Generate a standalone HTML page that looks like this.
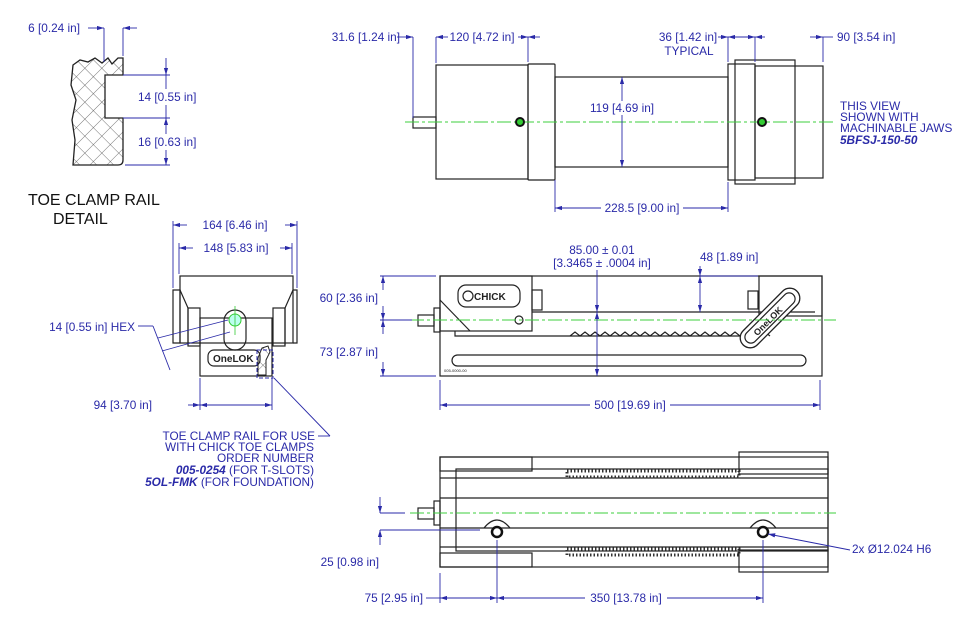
<!DOCTYPE html>
<html><head><meta charset="utf-8"><style>
html,body{margin:0;padding:0;background:#fff}
svg{display:block}
text{font-family:"Liberation Sans",Arial,sans-serif;font-size:11.8px;fill:#2a2aa8}
.m{text-anchor:middle}.e{text-anchor:end}
.b{fill:none;stroke:#222;stroke-width:1.2}
.d{stroke:#2a2aa8;stroke-width:0.9;fill:none}
.c{stroke:#3ccf3c;stroke-width:1;stroke-dasharray:14 3 3 3;fill:none}
</style></head><body>
<svg width="962" height="621" viewBox="0 0 962 621" xmlns="http://www.w3.org/2000/svg">
<defs>
<marker id="a" viewBox="0 0 10 6" refX="10" refY="3" markerWidth="8" markerHeight="5" orient="auto-start-reverse"><path d="M0,0L10,3L0,6z" fill="#2a2aa8"/></marker>
<pattern id="h" width="12" height="12" patternUnits="userSpaceOnUse" patternTransform="rotate(45)"><path d="M0,0V12M0,0H12" stroke="#444" stroke-width="0.7"/></pattern>
</defs>

<!-- TOE CLAMP DETAIL -->
<path d="M73,65 L80,60 L88,62 L95,58 L102,63 L108,58 L112,64 L118,58 L123,58 L123,75 L105,75 L105,118 L123,118 L123,160 Q123,165 118,165 L73,165 L75,140 L72,120 L76,100 L71,85 Z" fill="url(#h)" stroke="#222" stroke-width="1.3"/>
<text x="80" y="32" class="e">6 [0.24 in]</text>
<line class="d" x1="88" y1="28" x2="104" y2="28" marker-end="url(#a)"/>
<line class="d" x1="104" y1="28" x2="104" y2="62"/><line class="d" x1="123" y1="28" x2="123" y2="56"/>
<line class="d" x1="137" y1="28" x2="123" y2="28" marker-end="url(#a)"/>
<line class="d" x1="123" y1="75" x2="170" y2="75"/><line class="d" x1="123" y1="118" x2="170" y2="118"/><line class="d" x1="125" y1="165" x2="170" y2="165"/>
<line class="d" x1="166" y1="58" x2="166" y2="75" marker-end="url(#a)"/>
<line class="d" x1="166" y1="118" x2="166" y2="165" marker-start="url(#a)" marker-end="url(#a)"/>
<line class="d" x1="166" y1="75" x2="166" y2="118"/>
<rect x="136" y="89" width="64" height="16" fill="#fff"/><rect x="136" y="134" width="64" height="16" fill="#fff"/>
<text x="138" y="101">14 [0.55 in]</text>
<text x="138" y="146">16 [0.63 in]</text>
<text x="28" y="205" style="fill:#111;font-size:16px">TOE CLAMP RAIL</text>
<text x="53" y="224" style="fill:#111;font-size:16px">DETAIL</text>

<!-- TOP VIEW -->
<rect class="b" x="413" y="117" width="23" height="11"/>
<rect class="b" x="436" y="65" width="92" height="114"/>
<rect class="b" x="528" y="64" width="27" height="116" rx="1"/>
<rect class="b" x="555" y="77" width="173" height="90"/>
<rect class="b" x="735" y="60" width="60" height="124"/>
<rect class="b" x="728" y="64" width="27" height="116" fill="#fff"/>
<rect class="b" x="755" y="66" width="68" height="112" fill="#fff"/>
<line class="c" x1="405" y1="122" x2="836" y2="122"/>
<circle cx="520" cy="122" r="4" fill="#3c3" stroke="#111" stroke-width="2"/>
<circle cx="762" cy="122" r="4" fill="#3c3" stroke="#111" stroke-width="2"/>
<text x="400" y="41" class="e">31.6 [1.24 in]</text>
<line class="d" x1="397" y1="37" x2="413" y2="37" marker-end="url(#a)"/>
<line class="d" x1="413" y1="37" x2="413" y2="118"/><line class="d" x1="436" y1="37" x2="436" y2="63"/><line class="d" x1="528" y1="37" x2="528" y2="62"/>
<line class="d" x1="448" y1="37" x2="436" y2="37" marker-end="url(#a)"/>
<text x="482" y="41" class="m">120 [4.72 in]</text>
<line class="d" x1="518" y1="37" x2="528" y2="37" marker-end="url(#a)"/>
<line class="d" x1="540" y1="37" x2="528" y2="37" marker-end="url(#a)"/>
<text x="688" y="41" class="m">36 [1.42 in]</text><text x="689" y="55" class="m">TYPICAL</text>
<line class="d" x1="718" y1="37" x2="728" y2="37" marker-end="url(#a)"/>
<line class="d" x1="728" y1="37" x2="728" y2="62"/><line class="d" x1="755" y1="37" x2="755" y2="62"/><line class="d" x1="823" y1="37" x2="823" y2="62"/>
<line class="d" x1="728" y1="37" x2="755" y2="37" marker-start="url(#a)" marker-end="url(#a)"/>
<line class="d" x1="765" y1="37" x2="755" y2="37" marker-end="url(#a)"/>
<line class="d" x1="810" y1="37" x2="823" y2="37" marker-end="url(#a)"/>
<line class="d" x1="823" y1="37" x2="833" y2="37"/>
<text x="837" y="41">90 [3.54 in]</text>
<line class="d" x1="622" y1="77" x2="622" y2="167" marker-start="url(#a)" marker-end="url(#a)"/>
<rect x="586" y="101" width="72" height="14" fill="#fff"/>
<text x="622" y="112" class="m">119 [4.69 in]</text>
<line class="d" x1="555" y1="180" x2="555" y2="212"/><line class="d" x1="728" y1="182" x2="728" y2="212"/>
<line class="d" x1="601" y1="208" x2="555" y2="208" marker-end="url(#a)"/>
<line class="d" x1="683" y1="208" x2="728" y2="208" marker-end="url(#a)"/>
<text x="642" y="212" class="m">228.5 [9.00 in]</text>
<text x="840" y="110">THIS VIEW</text><text x="840" y="121">SHOWN WITH</text><text x="840" y="132">MACHINABLE JAWS</text>
<text x="840" y="144" style="font-weight:bold;font-style:italic">5BFSJ-150-50</text>

<!-- SIDE VIEW -->
<rect class="b" x="440" y="276" width="382" height="100"/>
<rect class="b" x="440" y="276" width="92" height="55" fill="#fff"/>
<rect class="b" x="458" y="285" width="62" height="22" rx="8"/>
<circle cx="468" cy="296" r="5" class="b"/>
<text x="474" y="300" style="fill:#222;font-weight:bold;font-size:10px">CHICK</text>
<circle cx="519" cy="320" r="4" class="b"/>
<path class="b" d="M440,300 L470,331"/>
<path class="b" d="M455,331 L455,336 L758,336"/>
<line class="b" x1="532" y1="312" x2="815" y2="312"/>
<rect class="b" x="532" y="290" width="10" height="20"/>
<rect class="b" x="759" y="276" width="63" height="40" fill="#fff"/>
<rect class="b" x="748" y="291" width="10" height="18"/>
<path class="b" d="M570,336 l5,-4 5,4 5,-4 5,4 5,-4 5,4 5,-4 5,4 5,-4 5,4 5,-4 5,4 5,-4 5,4 5,-4 5,4 5,-4 5,4 5,-4 5,4 5,-4 5,4 5,-4 5,4 5,-4 5,4 5,-4 5,4 5,-4 5,4 5,-4 5,4 5,-4 5,4 5,-4 5,4 5,-4 5,4 5,-4 5,4"/>
<rect class="b" x="452" y="355" width="354" height="11" rx="5.5"/>
<rect class="b" x="434" y="308" width="6" height="24"/><rect class="b" x="418" y="315" width="16" height="11"/>
<g transform="translate(770,318) rotate(-45)"><rect x="-38" y="-10" width="76" height="20" rx="10" fill="#fff" stroke="#222" stroke-width="1.3"/><rect x="-33" y="-6" width="66" height="12" rx="6" class="b"/><text x="-22" y="4" style="fill:#222;font-weight:bold;font-size:9px">OneLOK</text></g>
<text x="444" y="372" style="fill:#222;font-size:4px">005-0000-00</text>
<line class="c" x1="410" y1="320" x2="836" y2="320"/>
<line class="d" x1="380" y1="276" x2="436" y2="276"/><line class="d" x1="380" y1="320" x2="412" y2="320"/><line class="d" x1="380" y1="376" x2="436" y2="376"/>
<line class="d" x1="383" y1="290" x2="383" y2="276" marker-end="url(#a)"/>
<line class="d" x1="383" y1="306" x2="383" y2="320" marker-end="url(#a)"/>
<line class="d" x1="383" y1="334" x2="383" y2="320" marker-end="url(#a)"/>
<line class="d" x1="383" y1="362" x2="383" y2="376" marker-end="url(#a)"/>
<text x="378" y="302" class="e">60 [2.36 in]</text><text x="378" y="356" class="e">73 [2.87 in]</text>
<text x="602" y="254" class="m">85.00 ± 0.01</text><text x="602" y="267" class="m">[3.3465 ± .0004 in]</text>
<line class="d" x1="597" y1="270" x2="597" y2="312" marker-end="url(#a)"/>
<line class="d" x1="597" y1="312" x2="597" y2="376" marker-start="url(#a)" marker-end="url(#a)"/>
<text x="700" y="261">48 [1.89 in]</text>
<line class="d" x1="700" y1="266" x2="700" y2="276" marker-end="url(#a)"/>
<line class="d" x1="700" y1="276" x2="700" y2="312" marker-start="url(#a)" marker-end="url(#a)"/>
<line class="d" x1="700" y1="276" x2="758" y2="276"/>
<line class="d" x1="440" y1="380" x2="440" y2="410"/><line class="d" x1="820" y1="380" x2="820" y2="410"/>
<line class="d" x1="590" y1="405" x2="440" y2="405" marker-end="url(#a)"/>
<line class="d" x1="670" y1="405" x2="820" y2="405" marker-end="url(#a)"/>
<text x="630" y="409" class="m">500 [19.69 in]</text>

<!-- FRONT VIEW -->
<rect class="b" x="180" y="276" width="113" height="67"/>
<path class="b" d="M173,290 L180,290 L180,343 L173,343 Z M293,290 L297,290 L297,343 L293,343"/>
<path class="b" d="M180,290 L188,308 L188,345 M293,290 L285,308 L285,345"/>
<rect class="b" x="188" y="308" width="12" height="38"/><rect class="b" x="273" y="308" width="12" height="38"/>
<rect class="b" x="200" y="318" width="72" height="58"/>
<rect class="b" x="224" y="310" width="22" height="40" rx="11"/>
<circle cx="235" cy="320" r="6" fill="#bfe" stroke="#3c3"/>
<line x1="235" y1="306" x2="235" y2="335" stroke="#3c3" stroke-width="0.8"/>
<rect class="b" x="208" y="350" width="52" height="16" rx="6"/>
<text x="213" y="362" style="fill:#222;font-weight:bold;font-size:10px">OneLOK</text>
<path d="M258,358 L262,348 L268,346 L270,352 L266,360 L266,375 L258,375 Z" fill="url(#h)" stroke="#222"/>
<rect x="257" y="350" width="16" height="28" fill="none" stroke="#2a2aa8" stroke-dasharray="4 2"/>
<line class="d" x1="173" y1="221" x2="173" y2="288"/><line class="d" x1="297" y1="221" x2="297" y2="288"/>
<line class="d" x1="179" y1="243" x2="179" y2="274"/><line class="d" x1="292" y1="243" x2="292" y2="274"/>
<line class="d" x1="187" y1="225" x2="173" y2="225" marker-end="url(#a)"/>
<line class="d" x1="285" y1="225" x2="297" y2="225" marker-end="url(#a)"/>
<text x="235" y="229" class="m">164 [6.46 in]</text>
<line class="d" x1="193" y1="248" x2="179" y2="248" marker-end="url(#a)"/>
<line class="d" x1="280" y1="248" x2="292" y2="248" marker-end="url(#a)"/>
<text x="236" y="252" class="m">148 [5.83 in]</text>
<text x="135" y="331" class="e">14 [0.55 in] HEX</text>
<line class="d" x1="138" y1="326" x2="153" y2="326"/>
<line class="d" x1="153" y1="326" x2="170" y2="370"/>
<line class="d" x1="158" y1="338" x2="228" y2="320"/>
<line class="d" x1="162" y1="351" x2="230" y2="332"/>
<line class="d" x1="200" y1="378" x2="200" y2="410"/><line class="d" x1="272" y1="378" x2="272" y2="410"/>
<line class="d" x1="188" y1="405" x2="200" y2="405" marker-end="url(#a)"/>
<line class="d" x1="200" y1="405" x2="272" y2="405" marker-start="url(#a)" marker-end="url(#a)"/>
<text x="152" y="409" class="e">94 [3.70 in]</text>
<line class="d" x1="274" y1="378" x2="330" y2="436"/><line class="d" x1="318" y1="436" x2="330" y2="436"/>
<g class="e">
<text x="315" y="440">TOE CLAMP RAIL FOR USE</text>
<text x="314" y="451">WITH CHICK TOE CLAMPS</text>
<text x="314" y="462">ORDER NUMBER</text>
<text x="314" y="474"><tspan style="font-weight:bold;font-style:italic">005-0254</tspan> (FOR T-SLOTS)</text>
<text x="314" y="486"><tspan style="font-weight:bold;font-style:italic">5OL-FMK</tspan> (FOR FOUNDATION)</text>
</g>

<!-- BOTTOM VIEW -->
<rect class="b" x="440" y="457" width="388" height="110"/>
<rect class="b" x="456" y="469" width="372" height="82"/>
<line class="b" x1="440" y1="478" x2="828" y2="478"/>
<line class="b" x1="440" y1="498" x2="828" y2="498"/>
<line class="b" x1="440" y1="528" x2="828" y2="528"/>
<line class="b" x1="440" y1="547" x2="828" y2="547"/>
<rect x="567" y="471" width="172" height="6" fill="none" stroke="#333" stroke-dasharray="1.5 2" stroke-width="3"/>
<rect x="567" y="549" width="172" height="6" fill="none" stroke="#333" stroke-dasharray="1.5 2" stroke-width="3"/>
<rect class="b" x="440" y="457" width="92" height="14" fill="#fff"/>
<rect class="b" x="440" y="553" width="92" height="14" fill="#fff"/>
<rect class="b" x="739" y="452" width="89" height="22" fill="#fff"/>
<rect class="b" x="739" y="550" width="89" height="22" fill="#fff"/>
<rect class="b" x="434" y="501" width="6" height="24"/><rect class="b" x="418" y="508" width="16" height="11"/>
<path class="b" d="M484,528 Q497,512 510,528 M750,528 Q763,512 776,528" fill="#fff"/>
<circle cx="497" cy="532" r="5" fill="#fff" stroke="#111" stroke-width="2.5"/>
<circle cx="763" cy="532" r="5" fill="#fff" stroke="#111" stroke-width="2.5"/>
<line class="c" x1="410" y1="513" x2="836" y2="513"/>
<line class="d" x1="380" y1="513" x2="405" y2="513"/><line class="d" x1="380" y1="530" x2="480" y2="530"/>
<line class="d" x1="380" y1="497" x2="380" y2="513" marker-end="url(#a)"/>
<line class="d" x1="380" y1="545" x2="380" y2="530" marker-end="url(#a)"/>
<text x="379" y="566" class="e">25 [0.98 in]</text>
<line class="d" x1="440" y1="573" x2="440" y2="603"/><line class="d" x1="497" y1="540" x2="497" y2="603"/><line class="d" x1="763" y1="540" x2="763" y2="603"/>
<line class="d" x1="426" y1="598" x2="440" y2="598"/>
<line class="d" x1="440" y1="598" x2="497" y2="598" marker-start="url(#a)" marker-end="url(#a)"/>
<line class="d" x1="585" y1="598" x2="497" y2="598" marker-end="url(#a)"/>
<line class="d" x1="667" y1="598" x2="763" y2="598" marker-end="url(#a)"/>
<text x="423" y="602" class="e">75 [2.95 in]</text>
<text x="626" y="602" class="m">350 [13.78 in]</text>
<line class="d" x1="850" y1="550" x2="768" y2="534" marker-end="url(#a)"/>
<text x="852" y="553">2x Ø12.024 H6</text>
</svg>
</body></html>
